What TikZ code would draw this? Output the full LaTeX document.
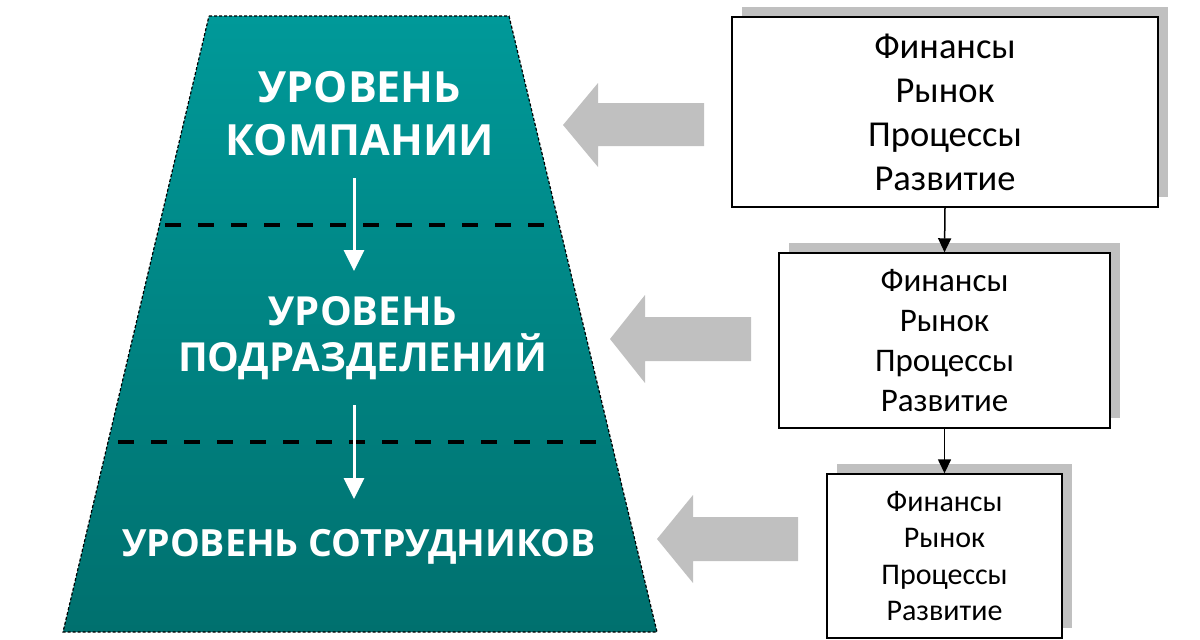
\documentclass[tikz,border=0pt]{standalone}
\usepackage{fontspec}
\setmainfont{Carlito}
\newfontfamily\lvlfont{Open Sans}
\usetikzlibrary{arrows.meta,shadows}
\definecolor{tealtop}{RGB}{0,153,153}
\definecolor{tealbot}{RGB}{0,112,110}
\definecolor{shadowgray}{RGB}{192,192,192}
\tikzset{
  lvltext/.style={text=white, align=center, font=\lvlfont\bfseries},
  infobox/.style={draw=black, line width=1.4pt, fill=white, align=center,
    inner sep=0pt,
    drop shadow={shadow xshift=10pt, shadow yshift=10pt, fill=shadowgray, opacity=1}},
  sepline/.style={line width=4pt, dash pattern=on 16pt off 17pt},
  whitearrow/.style={draw=white, line width=3pt, -{Triangle[length=21pt,width=20pt]}},
  linkarrow/.style={draw=black, line width=1.5pt, -{Triangle[length=14pt,width=13pt]}},
  grayarrow/.style={fill=shadowgray}
}
\begin{document}
\begin{tikzpicture}[x=1pt,y=-1pt]
\useasboundingbox (0,0) rectangle (1200,640);
% pyramid
\shade[top color=tealtop, bottom color=tealbot] (209,16) -- (509,16) -- (657,632) -- (63,632) -- cycle;
\draw[line width=1.2pt, dash pattern=on 3pt off 2pt] (209,16) -- (509,16) -- (657,632) -- (63,632) -- cycle;
% separators
\draw[sepline] (165,225) -- (553,225);
\draw[sepline] (118,442) -- (600,442);
% level texts
\node[lvltext, font=\lvlfont\bfseries\fontsize{43}{53}\selectfont] (l1) at (360,114) {УРОВЕНЬ\\КОМПАНИИ};
\node[lvltext, font=\lvlfont\bfseries\fontsize{40}{46}\selectfont] (l2) at (363,338) {УРОВЕНЬ\\ПОДРАЗДЕЛЕНИЙ};
\node[lvltext, font=\lvlfont\bfseries\fontsize{37.5}{46}\selectfont] (l3) at (359,547) {УРОВЕНЬ СОТРУДНИКОВ};
% white arrows
\coordinate (w1s) at (354,178);
\coordinate (w1e) at (354,271);
\coordinate (w2s) at (354,405);
\coordinate (w2e) at (354,499);
\draw[whitearrow] (w1s) -- (w1e);
\draw[whitearrow] (w2s) -- (w2e);
% boxes
\node[infobox, minimum width=426pt, minimum height=190pt, font=\fontsize{36.5}{44}\selectfont] (b1) at (945,112) {Финансы\\Рынок\\Процессы\\Развитие};
\node[infobox, minimum width=331pt, minimum height=175pt, font=\fontsize{33}{40}\selectfont] (b2) at (944.5,340.5) {Финансы\\Рынок\\Процессы\\Развитие};
\node[infobox, minimum width=235pt, minimum height=164pt, font=\fontsize{30}{36.5}\selectfont] (b3) at (944.5,556) {Финансы\\Рынок\\Процессы\\Развитие};
\draw[linkarrow] (b1.south) -- (b2.north);
\draw[linkarrow] (b2.south) -- (b3.north);
% gray block arrows
\fill[grayarrow] (563,125) -- (598,83) -- (598,103) -- (704,103) -- (704,146) -- (598,146) -- (598,167) -- cycle;
\fill[grayarrow] (610,339) -- (645,295) -- (645,317) -- (751,317) -- (751,361) -- (645,361) -- (645,383) -- cycle;
\fill[grayarrow] (657,539) -- (693,495) -- (693,517) -- (798,517) -- (798,561) -- (693,561) -- (693,583) -- cycle;
\end{tikzpicture}
\end{document}
